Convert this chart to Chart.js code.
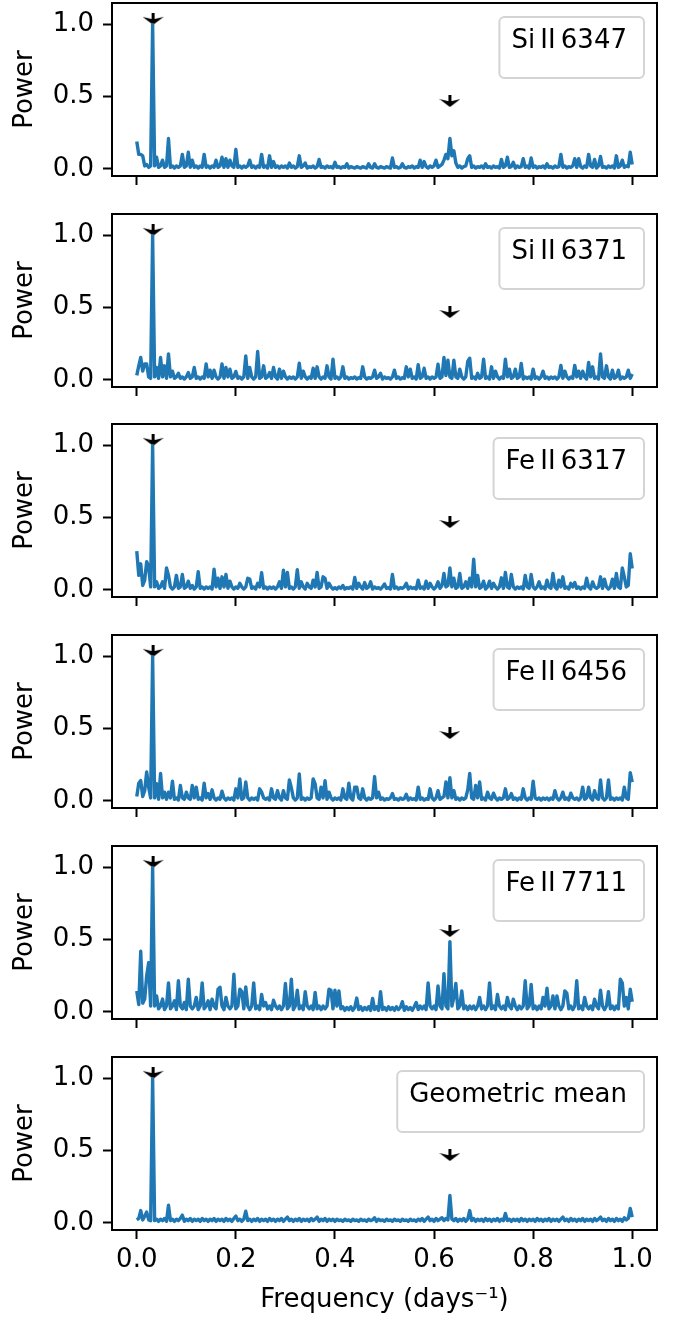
<!DOCTYPE html>
<html>
<head>
<meta charset="utf-8">
<script src="https://cdn.jsdelivr.net/npm/chart.js@4.4.1/dist/chart.umd.min.js"></script>
<style>
  html, body { margin: 0; padding: 0; background: #fff; }
  #wrap { position: relative; width: 676px; height: 1318px; }
  #wrap canvas { position: absolute; left: 0; }
</style>
</head>
<body>
<div id="wrap"></div>
<script>
const lineNames = ['Si\u2009II\u20096347', 'Si\u2009II\u20096371', 'Fe\u2009II\u20096317', 'Fe\u2009II\u20096456', 'Fe\u2009II\u20097711', 'Geometric mean'];

const siII6347 = [
  .19,.10,.10,.09,.02,.03,.01,.02,1.0,.02,
  .08,.01,.02,.06,.01,.02,.21,.01,.02,.005,
  .02,.01,.02,.10,.01,.02,.115,.01,.06,.01,
  .02,.005,.02,.01,.10,.01,.02,.005,.02,.01,
  .06,.01,.02,.08,.01,.07,.01,.06,.02,.01,
  .135,.01,.02,.005,.02,.01,.02,.06,.01,.02,
  .005,.02,.01,.10,.01,.02,.005,.09,.01,.05,
  .01,.02,.005,.02,.01,.02,.005,.04,.01,.02,
  .005,.015,.09,.01,.02,.04,.005,.015,.01,.02,
  .005,.015,.065,.01,.015,.005,.02,.01,.015,.005,
  .045,.01,.015,.005,.015,.01,.035,.005,.015,.01,
  .005,.015,.01,.005,.015,.01,.005,.035,.01,.005,
  .035,.01,.005,.015,.01,.005,.015,.01,.005,.075,
  .01,.015,.005,.01,.035,.01,.005,.015,.01,.02,
  .005,.015,.01,.06,.01,.05,.015,.005,.02,.01,
  .02,.06,.01,.02,.03,.06,.10,.07,.21,.09,
  .125,.04,.01,.02,.005,.015,.02,.07,.09,.01,
  .02,.005,.015,.01,.02,.005,.035,.01,.015,.005,
  .02,.01,.015,.005,.065,.01,.02,.08,.01,.015,
  .045,.005,.02,.01,.015,.07,.01,.02,.005,.075,
  .01,.02,.005,.015,.01,.02,.005,.035,.01,.015,
  .005,.02,.01,.015,.10,.01,.02,.005,.015,.01,
  .02,.07,.01,.07,.015,.005,.02,.01,.10,.02,
  .01,.065,.005,.02,.085,.01,.015,.005,.02,.01,
  .02,.005,.09,.01,.02,.06,.01,.02,.015,.115,
  .03
];

const siII6371 = [
  .03,.097,.155,.06,.11,.11,.02,.01,1.0,.02,
  .085,.01,.155,.02,.097,.01,.18,.02,.06,.01,
  .02,.045,.01,.02,.005,.02,.05,.01,.02,.085,
  .01,.02,.005,.02,.01,.11,.02,.067,.01,.067,
  .02,.005,.02,.11,.01,.085,.02,.074,.01,.02,
  .058,.01,.02,.005,.02,.166,.01,.085,.02,.005,
  .02,.196,.01,.02,.097,.01,.02,.05,.01,.085,
  .02,.005,.074,.01,.06,.02,.005,.02,.01,.02,
  .005,.02,.115,.01,.06,.02,.005,.02,.01,.08,
  .01,.09,.02,.005,.02,.01,.097,.02,.005,.143,
  .01,.02,.005,.02,.09,.01,.02,.005,.015,.01,
  .02,.005,.015,.01,.09,.02,.005,.015,.01,.02,
  .067,.01,.02,.045,.005,.02,.01,.015,.005,.02,
  .067,.01,.02,.005,.015,.01,.09,.02,.074,.01,
  .02,.005,.104,.01,.02,.08,.01,.02,.005,.02,
  .01,.02,.108,.01,.02,.155,.03,.136,.02,.01,
  .136,.02,.01,.074,.02,.005,.02,.127,.15,.01,
  .02,.005,.045,.01,.02,.143,.01,.02,.005,.09,
  .01,.06,.02,.005,.02,.01,.143,.02,.074,.01,
  .02,.074,.01,.02,.113,.005,.02,.01,.02,.005,
  .074,.01,.02,.005,.02,.06,.01,.02,.005,.02,
  .01,.02,.005,.02,.10,.01,.06,.02,.005,.02,
  .01,.10,.02,.06,.01,.06,.02,.005,.12,.02,
  .09,.01,.02,.005,.18,.02,.01,.097,.02,.005,
  .067,.01,.02,.067,.005,.02,.01,.02,.067,.01,
  .04
];

const feII6317 = [
  .268,.10,.18,.03,.067,.195,.16,.02,1.0,.02,
  .055,.01,.02,.055,.01,.152,.10,.02,.005,.02,
  .10,.01,.02,.106,.01,.02,.06,.01,.03,.005,
  .02,.125,.01,.02,.005,.02,.01,.02,.005,.143,
  .02,.08,.01,.09,.02,.106,.01,.06,.02,.005,
  .02,.01,.045,.02,.005,.02,.08,.075,.01,.02,
  .005,.045,.02,.118,.01,.02,.005,.02,.01,.02,
  .005,.02,.055,.01,.136,.02,.12,.01,.02,.005,
  .02,.14,.01,.055,.02,.005,.045,.02,.01,.067,
  .02,.12,.01,.02,.09,.08,.01,.045,.02,.005,
  .015,.005,.02,.01,.03,.005,.015,.01,.02,.005,
  .085,.01,.045,.02,.005,.05,.01,.02,.055,.005,
  .02,.01,.015,.005,.02,.04,.01,.015,.005,.106,
  .01,.02,.005,.015,.01,.02,.045,.005,.02,.01,
  .015,.005,.067,.01,.02,.005,.06,.01,.045,.02,
  .005,.02,.055,.01,.03,.113,.02,.03,.152,.02,
  .08,.01,.02,.113,.01,.02,.055,.01,.08,.02,
  .212,.02,.10,.01,.02,.06,.005,.02,.06,.01,
  .045,.02,.005,.02,.083,.01,.12,.02,.01,.106,
  .02,.005,.02,.01,.02,.005,.10,.02,.01,.106,
  .02,.005,.02,.055,.01,.02,.005,.067,.02,.01,
  .113,.02,.005,.067,.02,.09,.01,.02,.005,.045,
  .02,.05,.01,.02,.005,.02,.01,.08,.02,.005,
  .055,.02,.01,.02,.09,.01,.074,.02,.005,.02,
  .074,.01,.113,.02,.01,.152,.09,.02,.03,.25,
  .148
];

const feII6456 = [
  .03,.122,.14,.03,.07,.20,.095,.02,1.0,.02,
  .118,.01,.19,.02,.06,.01,.06,.02,.136,.01,
  .02,.005,.106,.02,.01,.06,.02,.01,.106,.02,
  .095,.01,.02,.005,.122,.02,.05,.01,.076,.02,
  .005,.02,.01,.067,.02,.005,.02,.01,.02,.005,
  .083,.02,.152,.01,.02,.13,.02,.005,.02,.01,
  .02,.005,.083,.06,.02,.01,.02,.005,.083,.02,
  .01,.07,.02,.005,.07,.02,.01,.145,.09,.02,
  .005,.02,.187,.01,.02,.005,.02,.01,.02,.152,
  .118,.02,.01,.095,.02,.14,.01,.06,.02,.005,
  .02,.01,.02,.005,.083,.02,.01,.122,.02,.005,
  .095,.095,.02,.01,.083,.02,.005,.02,.01,.02,
  .168,.02,.06,.01,.02,.005,.015,.01,.02,.05,
  .01,.015,.005,.02,.01,.015,.045,.005,.02,.01,
  .015,.005,.095,.01,.02,.005,.015,.01,.083,.02,
  .005,.02,.07,.01,.02,.03,.13,.02,.16,.02,
  .07,.01,.02,.005,.02,.01,.02,.076,.19,.02,
  .01,.106,.02,.13,.01,.02,.005,.06,.02,.01,
  .053,.02,.005,.02,.01,.02,.083,.01,.02,.05,
  .01,.02,.005,.02,.01,.083,.02,.005,.02,.01,
  .136,.02,.01,.02,.005,.02,.01,.02,.005,.02,
  .01,.07,.02,.005,.02,.06,.01,.02,.005,.053,
  .02,.01,.02,.005,.02,.095,.01,.02,.095,.02,
  .005,.07,.02,.01,.145,.02,.005,.02,.145,.01,
  .02,.005,.02,.01,.02,.005,.095,.02,.01,.195,
  .13
];

const feII7711 = [
  .145,.05,.42,.06,.088,.25,.34,.04,1.0,.04,
  .11,.02,.04,.088,.015,.04,.20,.02,.04,.076,
  .015,.215,.04,.02,.065,.015,.226,.04,.02,.04,
  .10,.015,.04,.20,.02,.04,.076,.015,.088,.04,
  .02,.157,.17,.04,.015,.10,.04,.02,.04,.26,
  .02,.04,.157,.14,.02,.173,.04,.015,.04,.20,
  .02,.04,.015,.12,.04,.065,.02,.04,.015,.08,
  .04,.02,.04,.015,.04,.196,.02,.04,.226,.015,
  .04,.15,.02,.04,.015,.14,.04,.02,.04,.015,
  .134,.02,.04,.015,.04,.02,.04,.157,.15,.02,
  .15,.04,.145,.02,.035,.01,.03,.015,.035,.01,
  .03,.095,.015,.035,.01,.03,.015,.035,.01,.093,
  .015,.035,.01,.14,.015,.03,.01,.035,.015,.03,
  .01,.035,.015,.03,.07,.01,.035,.015,.03,.01,
  .035,.065,.015,.04,.02,.04,.015,.20,.04,.02,
  .04,.015,.18,.04,.02,.265,.04,.02,.487,.04,
  .10,.196,.02,.04,.145,.02,.04,.015,.04,.02,
  .04,.015,.04,.10,.02,.04,.015,.04,.20,.02,
  .04,.015,.12,.04,.02,.04,.015,.10,.04,.02,
  .088,.04,.015,.04,.02,.04,.215,.02,.04,.19,
  .02,.04,.015,.04,.02,.10,.04,.164,.02,.04,
  .11,.02,.11,.04,.015,.04,.145,.13,.02,.04,
  .015,.04,.215,.02,.04,.015,.10,.04,.02,.04,
  .015,.088,.04,.02,.15,.04,.015,.04,.14,.02,
  .04,.015,.04,.02,.226,.20,.04,.10,.02,.157,
  .07
];

const geoMean = [
  .02,.03,.085,.02,.046,.074,.02,.015,1.0,.015,
  .025,.01,.025,.015,.03,.01,.122,.015,.025,.01,
  .025,.015,.03,.053,.01,.025,.015,.03,.01,.025,
  .015,.025,.01,.03,.015,.025,.01,.025,.015,.03,
  .01,.025,.015,.025,.01,.03,.015,.025,.01,.03,
  .046,.015,.025,.01,.025,.08,.015,.025,.01,.025,
  .015,.03,.01,.025,.015,.025,.01,.03,.015,.025,
  .01,.025,.015,.03,.01,.025,.04,.015,.025,.01,
  .025,.015,.03,.01,.025,.015,.025,.01,.03,.015,
  .025,.04,.01,.025,.015,.03,.01,.025,.015,.025,
  .01,.025,.015,.02,.01,.025,.015,.02,.01,.025,
  .015,.02,.01,.025,.015,.02,.01,.025,.015,.02,
  .035,.01,.025,.015,.02,.01,.025,.015,.02,.01,
  .025,.015,.02,.01,.025,.015,.02,.01,.025,.015,
  .02,.01,.025,.015,.03,.01,.025,.04,.015,.025,
  .01,.03,.015,.025,.035,.015,.03,.02,.19,.025,
  .015,.03,.01,.025,.015,.03,.01,.025,.085,.015,
  .03,.01,.025,.015,.025,.01,.03,.015,.025,.01,
  .025,.015,.03,.01,.025,.015,.065,.015,.025,.01,
  .025,.015,.025,.01,.03,.015,.025,.01,.025,.015,
  .025,.01,.03,.015,.025,.01,.025,.015,.03,.01,
  .025,.015,.025,.01,.025,.04,.015,.025,.01,.03,
  .015,.025,.01,.025,.015,.03,.01,.025,.015,.025,
  .01,.03,.015,.025,.04,.015,.025,.01,.03,.015,
  .025,.01,.03,.015,.025,.01,.035,.02,.03,.10,
  .04
];

const powerSeries = [siII6347, siII6371, feII6317, feII6456, feII7711, geoMean];

// arrow markers above the two periods
const markFreqs = [0.033, 0.632];
const markPower = [[1.04, 0.47], [1.04, 0.47], [1.04, 0.47], [1.04, 0.47], [1.04, 0.56], [1.04, 0.47]];

const xTicks = [0, 0.2, 0.4, 0.6, 0.8, 1.0];
const yTicks = [0, 0.5, 1.0];

const FONT = 'DejaVu Sans';
const panelTops = [0, 211, 421, 632, 843, 1054, 1318];
const noPad = () => ({ left: 0, top: 0, right: 0, bottom: 0 });

function makeArrow() {
  const c = document.createElement('canvas');
  c.width = 21; c.height = 12;
  const g = c.getContext('2d');
  g.fillStyle = '#000';
  g.fillRect(9, 0, 3, 7);
  g.beginPath();
  g.moveTo(0, 4);
  g.lineTo(10.5, 6.5);
  g.lineTo(21, 4);
  g.lineTo(10.5, 12);
  g.closePath();
  g.fill();
  return c;
}
const arrowImg = makeArrow();

const frame = {
  id: 'frame',
  afterDraw(chart) {
    const { ctx, chartArea: a } = chart;
    ctx.save();
    ctx.strokeStyle = '#000';
    ctx.lineWidth = 2;
    ctx.strokeRect(a.left, a.top, a.right - a.left, a.bottom - a.top);
    ctx.restore();
  }
};

const legendBox = {
  id: 'legendBox',
  afterDraw(chart, args, opts) {
    const { ctx, chartArea: a } = chart;
    ctx.save();
    ctx.font = '26px "' + FONT + '"';
    const w = ctx.measureText(opts.text).width + 29;
    const h = 61;
    const x = a.right - 13 - w, y = a.top + 14;
    ctx.beginPath();
    ctx.roundRect(x, y, w, h, 5);
    ctx.fillStyle = 'rgba(255,255,255,0.8)';
    ctx.fill();
    ctx.strokeStyle = '#d4d4d4';
    ctx.lineWidth = 2;
    ctx.stroke();
    ctx.fillStyle = '#000';
    ctx.textBaseline = 'alphabetic';
    ctx.fillText(opts.text, x + 12, y + 31);
    ctx.restore();
  }
};

const wrap = document.getElementById('wrap');

powerSeries.forEach((vals, p) => {
  const top = panelTops[p];
  const H = panelTops[p + 1] - top;
  const last = p === powerSeries.length - 1;

  const canvas = document.createElement('canvas');
  canvas.width = 676; canvas.height = H;
  canvas.style.top = top + 'px';
  wrap.appendChild(canvas);

  const freq = vals.map((v, i) => +(i * 0.004).toFixed(3));
  const pts = vals.map((v, i) => ({ x: freq[i], y: v }));
  const marks = markFreqs.map((f, k) => ({ x: f, y: markPower[p][k] }));

  new Chart(canvas.getContext('2d'), {
    type: 'line',
    data: {
      datasets: [{
        data: pts,
        borderColor: '#1f77b4',
        borderWidth: 3.4,
        borderJoinStyle: 'round',
        pointRadius: 0,
        tension: 0,
        fill: false
      }, {
        type: 'scatter',
        data: marks,
        pointStyle: arrowImg,
        pointRadius: 10,
        pointHoverRadius: 10
      }]
    },
    options: {
      responsive: false,
      animation: false,
      devicePixelRatio: 1,
      events: [],
      layout: { autoPadding: false, padding: { top: 3, right: 19, bottom: 0, left: 0 } },
      plugins: {
        legend: { display: false },
        tooltip: { enabled: false },
        legendBox: { text: lineNames[p] }
      },
      scales: {
        x: {
          type: 'linear',
          min: -0.05,
          max: 1.05,
          afterBuildTicks: s => { s.ticks = xTicks.map(v => ({ value: v })); },
          afterFit: s => { s.height = H - 3 - 173; s.getPadding = noPad; },
          ticks: {
            autoSkip: false,
            maxRotation: 0,
            padding: 6,
            color: '#000',
            font: { family: FONT, size: 26 },
            callback: v => last ? v.toFixed(1) : ''
          },
          grid: { drawOnChartArea: false, drawTicks: true, tickLength: 9, tickColor: '#000', tickWidth: 2 },
          border: { display: true, color: '#000', width: 2 },
          title: {
            display: last,
            text: 'Frequency (days\u207B\u00B9)',
            color: '#000',
            font: { family: FONT, size: 26 },
            padding: { top: 0, bottom: 2 }
          }
        },
        y: {
          min: -0.05,
          max: 1.15,
          afterBuildTicks: s => { s.ticks = yTicks.map(v => ({ value: v })); },
          afterFit: s => { s.width = 112; s.getPadding = noPad; },
          ticks: {
            padding: 9,
            color: '#000',
            font: { family: FONT, size: 26 },
            callback: v => v.toFixed(1)
          },
          grid: { drawOnChartArea: false, drawTicks: true, tickLength: 9, tickColor: '#000', tickWidth: 2 },
          border: { display: true, color: '#000', width: 2 },
          title: {
            display: true,
            text: 'Power',
            color: '#000',
            font: { family: FONT, size: 26 },
            padding: { top: 10, bottom: 0 }
          }
        }
      }
    },
    plugins: [frame, legendBox]
  });
});
</script>
</body>
</html>
